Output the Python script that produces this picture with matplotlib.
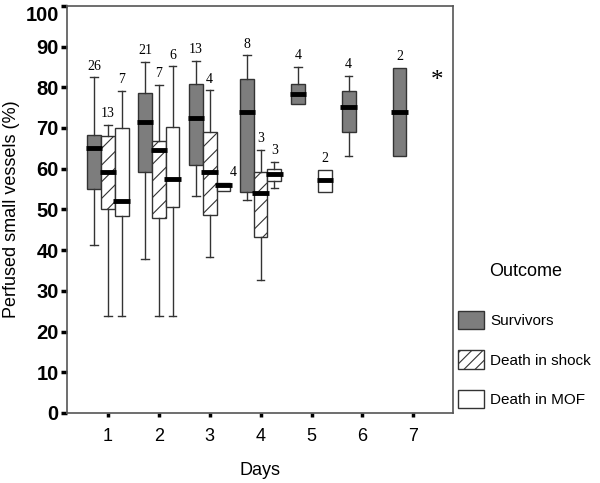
import matplotlib.pyplot as plt
from matplotlib.patches import Patch

# box stats per group: (day, whislo, q1, med, q3, whishi, n) ; None = no whisker
survivors = [
    (1, 41.3, 55.0, 65.1, 68.3, 82.4, 26),
    (2, 37.9, 59.1, 71.4, 78.6, 86.2, 21),
    (3, 53.2, 60.8, 72.5, 80.9, 86.5, 13),
    (4, 52.2, 54.2, 74.0, 82.0, 87.8, 8),
    (5, None, 75.9, 78.3, 80.9, 84.9, 4),
    (6, 63.0, 68.9, 75.1, 79.0, 82.8, 4),
    (7, None, 63.0, 74.0, 84.7, None, 2),
]
shock = [
    (1, 23.9, 50.1, 59.2, 67.9, 70.8, 13),
    (2, 23.9, 48.0, 64.5, 66.9, 80.6, 7),
    (3, 38.3, 48.5, 59.1, 68.9, 79.2, 4),
    (4, 32.7, 43.2, 54.0, 59.3, 64.6, 3),
]
mof = [
    (1, 23.9, 48.4, 52.0, 70.1, 79.0, 7),
    (2, 23.9, 50.5, 57.5, 70.2, 85.1, 6),
    (3, None, 54.4, 55.9, 56.4, None, 4),
    (4, 55.2, 56.9, 58.7, 59.9, 61.6, 3),
    (5, None, 54.3, 57.2, 59.7, None, 2),
]
groups = [
    ("Survivors", survivors, -0.27, "#7d7d7d", None),
    ("Death in shock", shock, 0.0, "white", "//"),
    ("Death in MOF", mof, 0.27, "white", None),
]
days = [1, 2, 3, 4, 5, 6, 7]

plt.rcParams['hatch.linewidth'] = 0.8
fig = plt.figure(figsize=(6, 4.83), dpi=100)
ax = fig.add_axes([0.112, 0.145, 0.643, 0.843])

width = 0.27
for name, data, off, color, hatch in groups:
    stats = []
    pos = []
    for d, lo, q1, med, q3, hi, n in data:
        stats.append({"med": med, "q1": q1, "q3": q3,
                      "whislo": lo if lo is not None else q1,
                      "whishi": hi if hi is not None else q3,
                      "fliers": []})
        pos.append(d + off)
    bp = ax.bxp(stats, positions=pos, widths=width, patch_artist=True,
                showfliers=False,
                boxprops=dict(facecolor=color, edgecolor="#333333", linewidth=1.0, hatch=hatch),
                medianprops=dict(color="black", linewidth=3.5),
                whiskerprops=dict(color="#333333", linewidth=1.0),
                capprops=dict(color="#333333", linewidth=1.0),
                capwidths=width * 0.55)
    for i, (d, lo, q1, med, q3, hi, n) in enumerate(data):
        bp["medians"][i].set_xdata([pos[i] - width * 0.6, pos[i] + width * 0.6])
        if lo is None:
            bp["caps"][2 * i].set_visible(False)
        if hi is None:
            bp["caps"][2 * i + 1].set_visible(False)
        top = hi if hi is not None else q3
        if name == "Death in MOF" and d == 3:
            ax.text(pos[i] + 0.2, med + 1.5, str(n), ha="center", va="bottom",
                    fontsize=10, family="Liberation Serif")
        else:
            ax.text(pos[i], top + 1.2, str(n), ha="center", va="bottom",
                    fontsize=10, family="Liberation Serif")

ax.text(7.47, 81.5, "*", ha="center", va="center", fontsize=18, family="Liberation Serif")

ax.set_xlim(0.2, 7.78)
ax.set_ylim(0, 100)
ax.set_xticks(days)
ax.set_xticklabels([str(d) for d in days], fontsize=13, family="Liberation Sans")
ax.set_yticks(range(0, 101, 10))
ax.set_yticklabels([str(v) for v in range(0, 101, 10)], fontsize=14.5,
                   family="Liberation Sans", fontweight="bold")
ax.get_yticklabels()[-1].set_va("top")
ax.tick_params(axis="y", direction="out", length=4, width=2.5, pad=2)
ax.tick_params(axis="x", direction="out", length=3, width=2.5, pad=8)
for s in ax.spines.values():
    s.set_color("#555555")
    s.set_linewidth(1.2)
ax.set_xlabel("Days", fontsize=13, family="Liberation Sans", labelpad=12)
ax.set_ylabel("Perfused small vessels (%)", fontsize=13, family="Liberation Sans", labelpad=4)

fig.text(526 / 600, 1 - 272 / 483, "Outcome", ha="center", va="center",
         fontsize=13, family="Liberation Sans")
handles = [Patch(facecolor="#7d7d7d", edgecolor="#333333", label="Survivors"),
           Patch(facecolor="white", edgecolor="#333333", hatch="///", label="Death in shock"),
           Patch(facecolor="white", edgecolor="#333333", label="Death in MOF")]
leg = fig.legend(handles=handles, loc="upper left",
                 bbox_to_anchor=(0.755, 1 - 306 / 483), frameon=False,
                 prop={"family": "Liberation Sans", "size": 11},
                 handlelength=1.75, handleheight=1.45, labelspacing=1.42,
                 handletextpad=0.4, borderaxespad=0, borderpad=0.3)

fig.savefig("out.png", dpi=100)
